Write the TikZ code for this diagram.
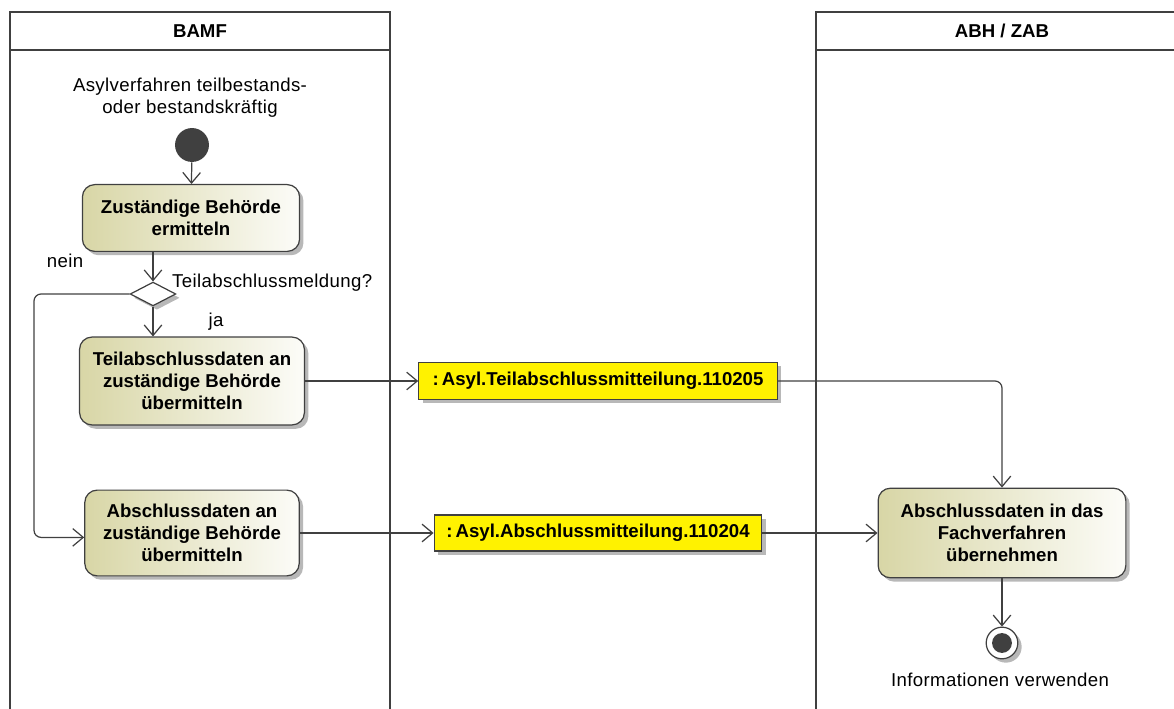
\documentclass[tikz,border=0pt]{standalone}
\usepackage{fontspec}
\setmainfont{Liberation Sans}
\usepackage{xcolor}
\usepackage{tikz}
\usetikzlibrary{arrows.meta,shapes.geometric,shadows}

\definecolor{linegray}{HTML}{404040}
\definecolor{actleft}{HTML}{D8D6A6}
\definecolor{actright}{HTML}{FCFCF8}
\definecolor{shadowgray}{HTML}{B8B8B8}

\begin{document}
\begin{tikzpicture}[
    x=0.02cm,
    y=-0.02cm,
    every node/.style={font=\fontsize{10.6}{12.5}\selectfont\addfontfeature{LetterSpace=2}},
    boldtext/.style={font=\fontsize{10.6}{12.5}\selectfont\bfseries},
    lane/.style={draw=linegray, line width=1.3pt},
    shd/.style={drop shadow={shadow xshift=2.2pt, shadow yshift=-2.2pt, fill=shadowgray, opacity=1}},
    action/.style={shd, boldtext, draw=linegray, line width=0.7pt, rounded corners=7pt, align=center, inner sep=0pt,
      left color=actleft, right color=actright},
    object/.style={shd, boldtext, draw=linegray, line width=0.7pt, fill=yellow, inner sep=0pt, minimum height=21pt},
    decision/.style={shd, diamond, draw=linegray, line width=0.7pt, fill=white, inner sep=0pt,
      minimum width=26pt, minimum height=13.6pt},
    arrow/.style={-{Straight Barb[length=6pt, width=10pt]}, draw=linegray, line width=0.7pt}
]
\useasboundingbox (0,0) rectangle (1174,709);

% swimlanes
\draw[lane] (10,709) -- (10,12) -- (390,12) -- (390,709);
\draw[lane] (10,50) -- (390,50);
\node[boldtext] (bamf) at (200,31) {BAMF};
\draw[lane] (816,709) -- (816,12) -- (1174,12);
\draw[lane] (816,50) -- (1174,50);
\node[boldtext] (abh) at (1002,31) {ABH / ZAB};

% BAMF
\node[circle, fill=linegray, minimum size=19.3pt, inner sep=0pt] (start) at (192,145) {};
\node[align=center] (startlbl) at (190,98) {Asylverfahren teilbestands-\\oder bestandskräftig};
\node[action, minimum width=123.6pt, minimum height=38pt] (ermitteln) at (191,218)
  {Zuständige Behörde\\ermitteln};
\node[decision] (dec) at (153,294) {};
\node[action, minimum width=128pt, minimum height=50pt] (teil) at (192,381)
  {Teilabschlussdaten an\\zuständige Behörde\\übermitteln};
\node[action, minimum width=122pt, minimum height=48.8pt] (absch) at (192,533)
  {Abschlussdaten an\\zuständige Behörde\\übermitteln};

\node (nein) at (65,261) {nein};
\node[anchor=west] (frage) at (166,283) {Teilabschlussmeldung?};
\node (ja) at (216,322) {ja};

% Nachrichten
\node[object, minimum width=204pt] (msg1) at (598,381) {:\,Asyl.Teilabschlussmitteilung.110205};
\node[object, minimum width=186.5pt, minimum height=20.4pt] (msg2) at (598,533) {:\,Asyl.Abschlussmitteilung.110204};

% ABH / ZAB
\node[action, minimum width=141pt, minimum height=51pt] (uebern) at (1002,533)
  {Abschlussdaten in das\\Fachverfahren\\übernehmen};
\node[shd, circle, draw=linegray, line width=0.7pt, fill=white, minimum size=18pt, inner sep=0pt] (final) at (1002,643) {};
\node[circle, fill=linegray, minimum size=11.3pt, inner sep=0pt] (finalin) at (final) {};
\node (finallbl) at (1000,680) {Informationen verwenden};

% Kanten
\draw[arrow] (start) -- (ermitteln);
\draw[arrow] (dec.north |- ermitteln.south) -- (dec.north);
\draw[arrow] (dec.south) -- (dec.south |- teil.north);
\draw[arrow, rounded corners=4pt] (dec.west) -- (34,294) |- ([yshift=-2.5pt]absch.west);
\draw[arrow] (teil) -- (msg1);
\draw[arrow] (absch) -- (msg2);
\draw[arrow, rounded corners=4pt] (msg1.east) -| (uebern.north);
\draw[arrow] (msg2) -- (uebern);
\draw[arrow] (uebern) -- (final);
\end{tikzpicture}
\end{document}
